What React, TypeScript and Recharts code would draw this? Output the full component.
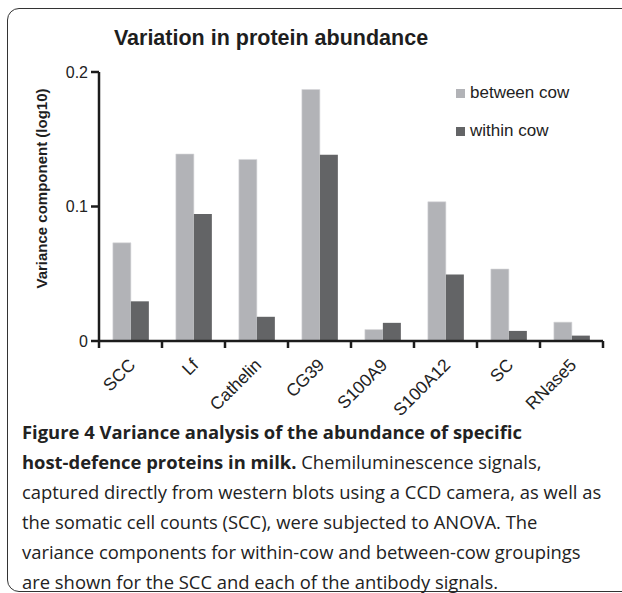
import React from "react";
import { BarChart, Bar, XAxis, YAxis, Legend, Label } from "recharts";

const categories = ["SCC", "Lf", "Cathelin", "CG39", "S100A9", "S100A12", "SC", "RNase5"];
const betweenCow = [0.073, 0.139, 0.135, 0.187, 0.0085, 0.1035, 0.0535, 0.014];
const withinCow = [0.0295, 0.0945, 0.018, 0.1385, 0.0135, 0.0495, 0.0075, 0.004];
const yTicks = [0, 0.1, 0.2];

const data = categories.map((c, i) => ({ name: c, between: betweenCow[i], within: withinCow[i] }));

const AXIS = "#1c1c1c";
const FONT = "'Liberation Sans', Arial, Helvetica, sans-serif";

const XTick = (props: any) => {
  const { x, y, payload, index, visibleTicksCount } = props;
  const off = payload && payload.offset ? payload.offset : 0;
  const top = y - 8;
  const ax = x + 6;
  const ay = y + 17;
  return (
    <g>
      <line x1={x - off} x2={x - off} y1={top} y2={top + 7} stroke={AXIS} strokeWidth={2.5} />
      {index === visibleTicksCount - 1 ? (
        <line x1={x + off} x2={x + off} y1={top} y2={top + 7} stroke={AXIS} strokeWidth={2.5} />
      ) : null}
      <text
        x={ax}
        y={ay}
        textAnchor="end"
        transform={`rotate(-45 ${ax} ${ay})`}
        fontSize={17.5}
        fontFamily={FONT}
        fill="#222"
      >
        {payload.value}
      </text>
    </g>
  );
};

const LegendContent = (props: any) => {
  const { payload } = props;
  return (
    <div style={{ fontFamily: FONT, fontSize: 17, color: "#222" }}>
      {(payload || []).map((p: any) => (
        <div key={p.value} style={{ display: "flex", alignItems: "center", height: 38 }}>
          <span style={{ display: "inline-block", width: 9, height: 9, background: p.color, marginRight: 5 }} />
          <span>{p.value}</span>
        </div>
      ))}
    </div>
  );
};

export default function App() {
  return (
    <div style={{ position: "absolute", left: 0, top: 0, width: 622, height: 593, overflow: "hidden", background: "#fff" }}>
      <div
        style={{
          position: "absolute",
          left: 7,
          top: 8,
          width: 660,
          height: 584,
          border: "1.5px solid #333",
          borderRadius: 12,
          boxSizing: "border-box",
        }}
      />
      <div
        style={{
          position: "absolute",
          left: 0,
          top: 26,
          width: 542,
          textAlign: "center",
          fontFamily: FONT,
          fontWeight: "bold",
          fontSize: 21.5,
          color: "#1e1e1e",
        }}
      >
        Variation in protein abundance
      </div>
      <div style={{ position: "absolute", left: 0, top: 0 }}>
        <BarChart
          width={622}
          height={420}
          data={data}
          margin={{ top: 72, right: 19, bottom: 0, left: 0 }}
          barCategoryGap="22%"
          barGap={0}
        >
          <XAxis
            dataKey="name"
            axisLine={{ stroke: AXIS, strokeWidth: 2.5 }}
            tickLine={false}
            tick={<XTick />}
            interval={0}
            height={79}
            tickSize={6}
            tickMargin={2}
          />
          <YAxis
            width={99}
            domain={[0, 0.2]}
            ticks={yTicks}
            axisLine={{ stroke: AXIS, strokeWidth: 2.5 }}
            tickLine={{ stroke: AXIS, strokeWidth: 2.5 }}
            tickSize={8}
            tickMargin={3}
            tickFormatter={(v: number) => (v === 0 ? "0" : String(v))}
            tick={{ fontSize: 16, fontFamily: FONT, fill: "#222" }}
          >
            <Label
              content={(p: any) => {
                const vb = p.viewBox || { x: 0, y: 72, width: 99, height: 269 };
                const cx = vb.x + 47;
                const cy = vb.y + vb.height / 2 - 18;
                return (
                  <text
                    x={cx}
                    y={cy}
                    textAnchor="middle"
                    transform={`rotate(-90 ${cx} ${cy})`}
                    fontSize={15}
                    fontWeight="bold"
                    fontFamily={FONT}
                    fill="#1e1e1e"
                  >
                    Variance component (log10)
                  </text>
                );
              }}
            />
          </YAxis>
          <Legend
            content={<LegendContent />}
            layout="vertical"
            verticalAlign="middle"
            align="center"
            wrapperStyle={{ position: "absolute", left: 456, top: 74, width: 160 }}
          />
          <Bar dataKey="between" name="between cow" fill="#b2b3b7" stroke="#d6d7da" strokeWidth={0.6} isAnimationActive={false} />
          <Bar dataKey="within" name="within cow" fill="#636466" isAnimationActive={false} />
        </BarChart>
      </div>
      <div
        style={{
          position: "absolute",
          left: 22,
          top: 417,
          fontFamily: "'Open Sans', 'Noto Sans', sans-serif",
          fontSize: 18.4,
          lineHeight: "30px",
          color: "#222",
          whiteSpace: "nowrap",
        }}
      >
        <div style={{ fontWeight: "bold" }}>Figure 4 Variance analysis of the abundance of specific</div>
        <div>
          <span style={{ fontWeight: "bold" }}>host-defence proteins in milk.</span> Chemiluminescence signals,
        </div>
        <div>captured directly from western blots using a CCD camera, as well as</div>
        <div>the somatic cell counts (SCC), were subjected to ANOVA. The</div>
        <div>variance components for within-cow and between-cow groupings</div>
        <div>are shown for the SCC and each of the antibody signals.</div>
      </div>
    </div>
  );
}
